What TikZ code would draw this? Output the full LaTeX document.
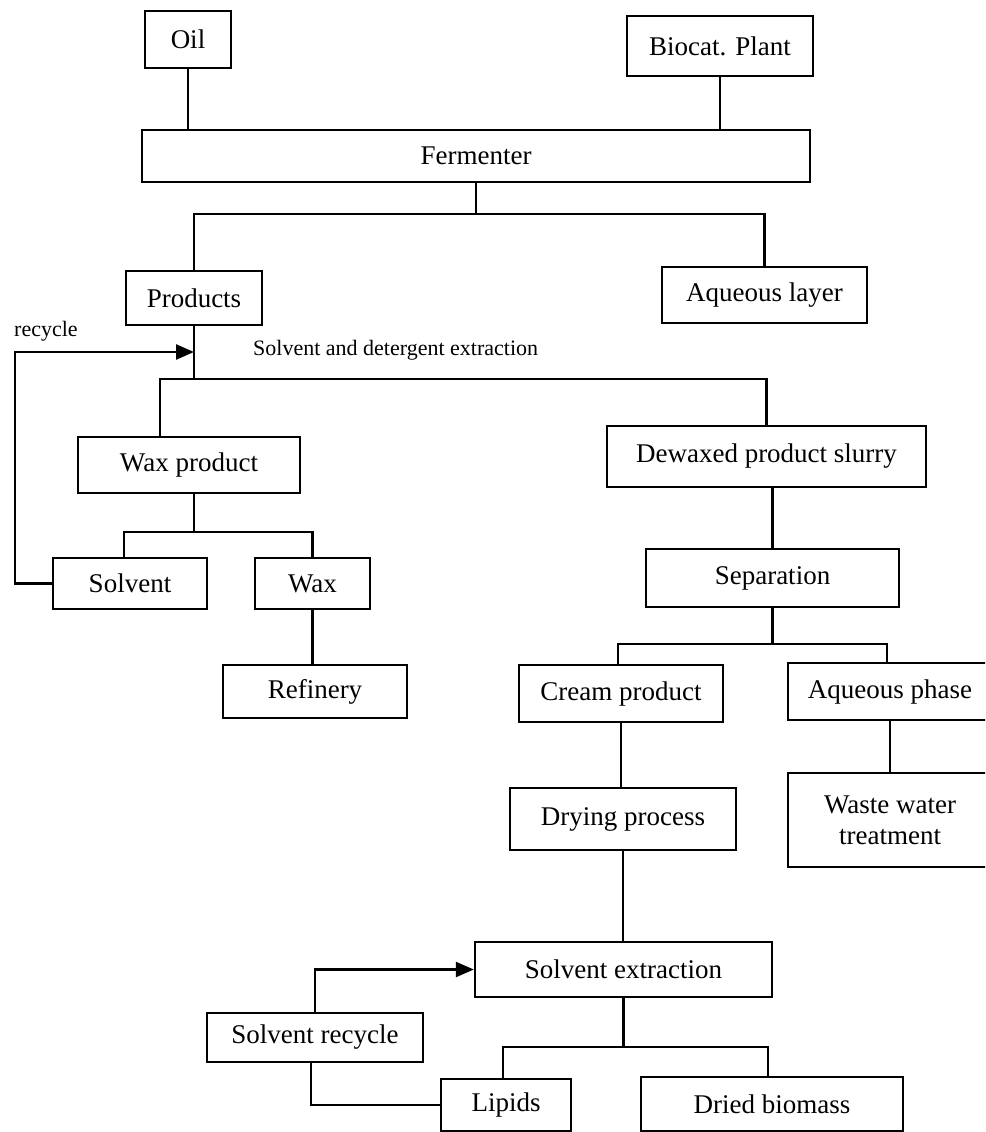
\documentclass[tikz,border=0pt]{standalone}
\usepackage{fontspec}
\setmainfont{Liberation Serif}
\usetikzlibrary{arrows.meta}

\tikzstyle{unit} = [draw=black, line width=2.4pt, text centered, inner sep=2pt, anchor=center]
\tikzstyle{link} = [draw=black, line width=2.4pt]
\tikzstyle{note} = [inner sep=0pt, anchor=west, font=\fontsize{22}{26}\selectfont]

\begin{document}
\begin{tikzpicture}[x=1pt, y=-1pt, >={Triangle[length=18pt,width=15pt]}, every node/.style={font=\fontsize{27}{31}\selectfont}]

	\clip (0,0) rectangle (985,1132);

	% feed and fermenter
	\node (Oil)      [unit, minimum width=86,  minimum height=57] at (188,39.5) {Oil};
	\node (Biocat)   [unit, minimum width=186, minimum height=60] at (720,46) {Biocat. Plant};
	\node (Ferm)     [unit, minimum width=668, minimum height=52] at (476,156) {Fermenter};
	\node (Products) [unit, minimum width=136, minimum height=54] at (194,298) {Products};
	\node (AqLayer)  [unit, minimum width=205, minimum height=56] at (764.5,295) {Aqueous layer};

	% wax branch
	\node (WaxProd)  [unit, minimum width=222, minimum height=56] at (189,465) {Wax product};
	\node (Solvent)  [unit, minimum width=154, minimum height=51] at (130,583.5) {Solvent};
	\node (Wax)      [unit, minimum width=115, minimum height=51] at (312.5,583.5) {Wax};
	\node (Refinery) [unit, minimum width=184, minimum height=53] at (315,691.5) {Refinery};

	% dewaxed branch
	\node (Dewax)    [unit, minimum width=319, minimum height=61] at (766.5,456.5) {Dewaxed product slurry};
	\node (Sep)      [unit, minimum width=253, minimum height=58] at (772.5,578) {Separation};
	\node (Cream)    [unit, minimum width=204, minimum height=57] at (621,693.5) {Cream product};
	\node (AqPhase)  [unit, minimum width=204, minimum height=57] at (890,691.5) {Aqueous phase};
	\node (Waste)    [unit, minimum width=204, minimum height=94, align=center] at (890,820) {Waste water\\treatment};
	\node (Drying)   [unit, minimum width=226, minimum height=62] at (623,819) {Drying process};
	\node (SolvExt)  [unit, minimum width=297, minimum height=55] at (623.5,969.5) {Solvent extraction};
	\node (SolvRec)  [unit, minimum width=216, minimum height=49] at (315,1037.5) {Solvent recycle};
	\node (Lipids)   [unit, minimum width=130, minimum height=52] at (506,1105) {Lipids};
	\node (Dried)    [unit, minimum width=262, minimum height=54] at (772,1104) {Dried biomass};

	\node (recycleNote) [note] at (14,331) {recycle};
	\node (extractNote) [note] at (253,350) {Solvent and detergent extraction};

	% junctions
	\coordinate (fj) at (476,214);
	\coordinate (pj) at (194,379);
	\coordinate (wj) at (194,532);
	\coordinate (sj) at (772.5,644);
	\coordinate (ej) at (623.5,1047);
	\coordinate (rc) at (15,352);

	\draw[link] (Oil.south) -- (Oil.south |- Ferm.north);
	\draw[link] (Biocat.south) -- (Biocat.south |- Ferm.north);
	\draw[link] (Ferm.south) -- (fj);
	\draw[link] (Products.north) |- (fj) -| (AqLayer.north);

	\draw[link] (Products.south) -- (pj);
	\draw[link] ([xshift=-29pt]WaxProd.north) |- (pj) -| (Dewax.north);
	\draw[link,->] (Solvent.west) -| (rc) -- (Products.south |- rc);

	\draw[link] (wj |- WaxProd.south) -- (wj);
	\draw[link] ([xshift=-6pt]Solvent.north) |- (wj) -| (Wax.north);
	\draw[link] (Wax.south) -- (Wax.south |- Refinery.north);

	\draw[link] (Dewax.south -| Sep.north) -- (Sep.north);
	\draw[link] (Sep.south) -- (sj);
	\draw[link] ([xshift=-3pt]Cream.north) |- (sj) -| ([xshift=-3pt]AqPhase.north);
	\draw[link] (AqPhase.south) -- (AqPhase.south |- Waste.north);
	\draw[link] (Cream.south) -- (Cream.south |- Drying.north);
	\draw[link] (Drying.south) -- (Drying.south |- SolvExt.north);

	\draw[link] (SolvExt.south) -- (ej);
	\draw[link] ([xshift=-3pt]Lipids.north) |- (ej) -| ([xshift=-4pt]Dried.north);
	\draw[link,->] (SolvRec.north) |- (SolvExt.west);
	\draw[link] (Lipids.west) -| ([xshift=-4pt]SolvRec.south);

\end{tikzpicture}
\end{document}
